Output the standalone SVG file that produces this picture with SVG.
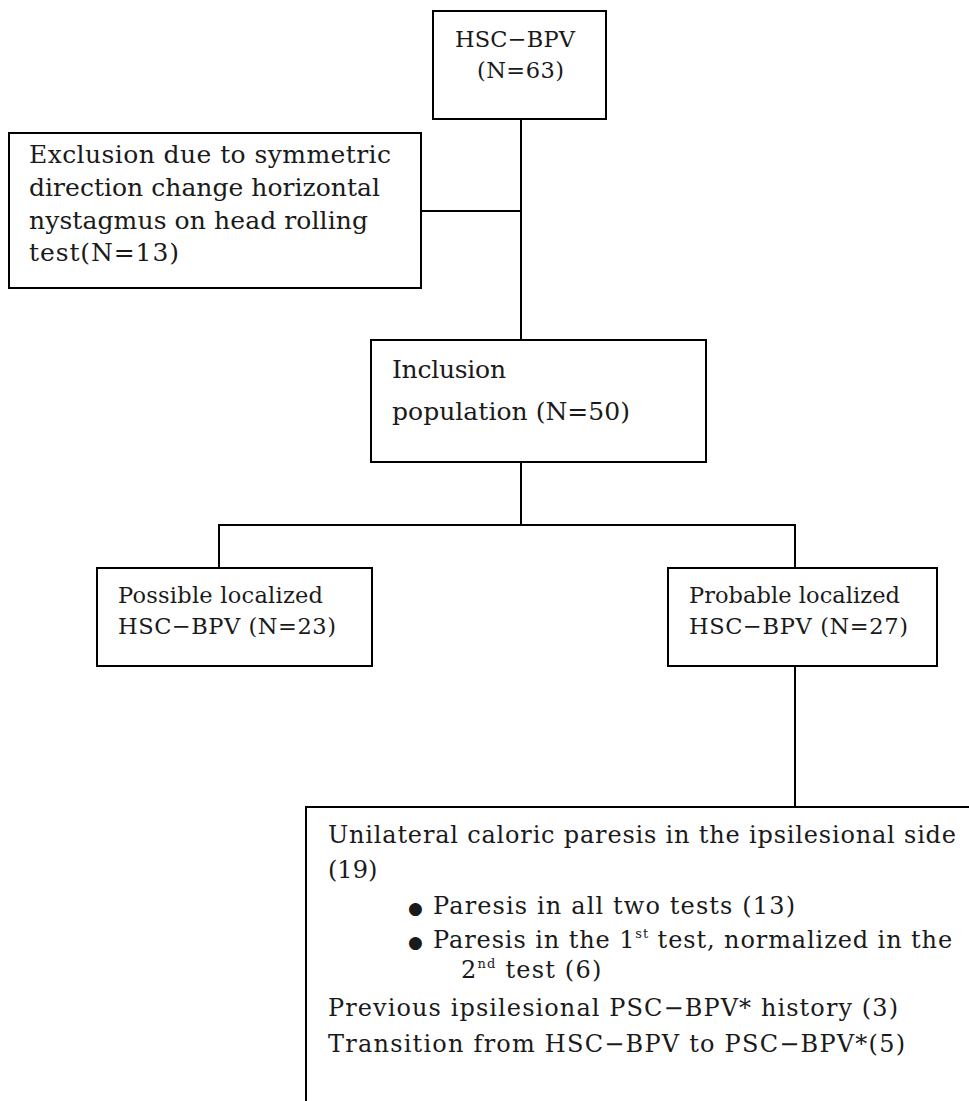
<svg xmlns="http://www.w3.org/2000/svg" width="969" height="1101" viewBox="0 0 969 1101">
<style>
.box{fill:#fff;stroke:#000;stroke-width:2}
.ln{fill:none;stroke:#000;stroke-width:2}
text{font-family:"DejaVu Serif","Liberation Serif",serif;fill:#1a1a1a}
.t22{font-size:22.5px}
.t24{font-size:25px}
.tb{font-size:24px}
.sup{font-size:13px}
.bul{font-family:"DejaVu Sans",sans-serif;font-size:17px}
</style>
<rect width="969" height="1101" fill="#fff"/>
<g id="connectors">
<path class="ln" d="M521,119 V340"/>
<path class="ln" d="M421,211 H521"/>
<path class="ln" d="M521,462 V525"/>
<path class="ln" d="M219,568 V525 H795 V568"/>
<path class="ln" d="M795,666 V807"/>
</g>
<g id="node-hsc">
<rect class="box" x="433" y="11" width="173" height="108"/>
<text class="t22" x="455" y="47" textLength="120" lengthAdjust="spacing">HSC−BPV</text>
<text class="t22" x="477" y="78" textLength="87" lengthAdjust="spacing">(N=63)</text>
</g>
<g id="node-exclusion">
<rect class="box" x="9" y="133" width="412" height="155"/>
<text class="t24" x="29" y="163" textLength="362" lengthAdjust="spacing">Exclusion due to symmetric</text>
<text class="t24" x="29" y="196" textLength="351" lengthAdjust="spacing">direction change horizontal</text>
<text class="t24" x="29" y="229" textLength="339" lengthAdjust="spacing">nystagmus on head rolling</text>
<text class="t24" x="29" y="261" textLength="150" lengthAdjust="spacing">test(N=13)</text>
</g>
<g id="node-inclusion">
<rect class="box" x="371" y="340" width="335" height="122"/>
<text class="t24" x="392" y="378" textLength="114" lengthAdjust="spacing">Inclusion</text>
<text class="t24" x="392" y="420" textLength="238" lengthAdjust="spacing">population (N=50)</text>
</g>
<g id="node-possible">
<rect class="box" x="97" y="568" width="275" height="98"/>
<text class="t22" x="118" y="603" textLength="205" lengthAdjust="spacing">Possible localized</text>
<text class="t22" x="118" y="634" textLength="218" lengthAdjust="spacing">HSC−BPV (N=23)</text>
</g>
<g id="node-probable">
<rect class="box" x="668" y="568" width="269" height="98"/>
<text class="t22" x="689" y="603" textLength="211" lengthAdjust="spacing">Probable localized</text>
<text class="t22" x="689" y="634" textLength="219" lengthAdjust="spacing">HSC−BPV (N=27)</text>
</g>
<g id="node-details">
<path class="ln" d="M306,1101 V807 H969"/>
<text class="tb" x="328" y="843" textLength="628" lengthAdjust="spacing">Unilateral caloric paresis in the ipsilesional side</text>
<text class="tb" x="328" y="878">(19)</text>
<text class="bul" x="408" y="914">●</text>
<text class="tb" x="433" y="914" textLength="362" lengthAdjust="spacing">Paresis in all two tests (13)</text>
<text class="bul" x="408" y="948">●</text>
<text class="tb" x="433" y="948" letter-spacing="0.9">Paresis in the 1<tspan class="sup" dy="-10">st</tspan><tspan dy="10"> test, normalized in the</tspan></text>
<text class="tb" x="461" y="978" letter-spacing="1.2">2<tspan class="sup" dy="-10">nd</tspan><tspan dy="10"> test (6)</tspan></text>
<text class="tb" x="328" y="1016" textLength="570" lengthAdjust="spacing">Previous ipsilesional PSC−BPV* history (3)</text>
<text class="tb" x="328" y="1052" textLength="577" lengthAdjust="spacing">Transition from HSC−BPV to PSC−BPV*(5)</text>
</g>
</svg>
